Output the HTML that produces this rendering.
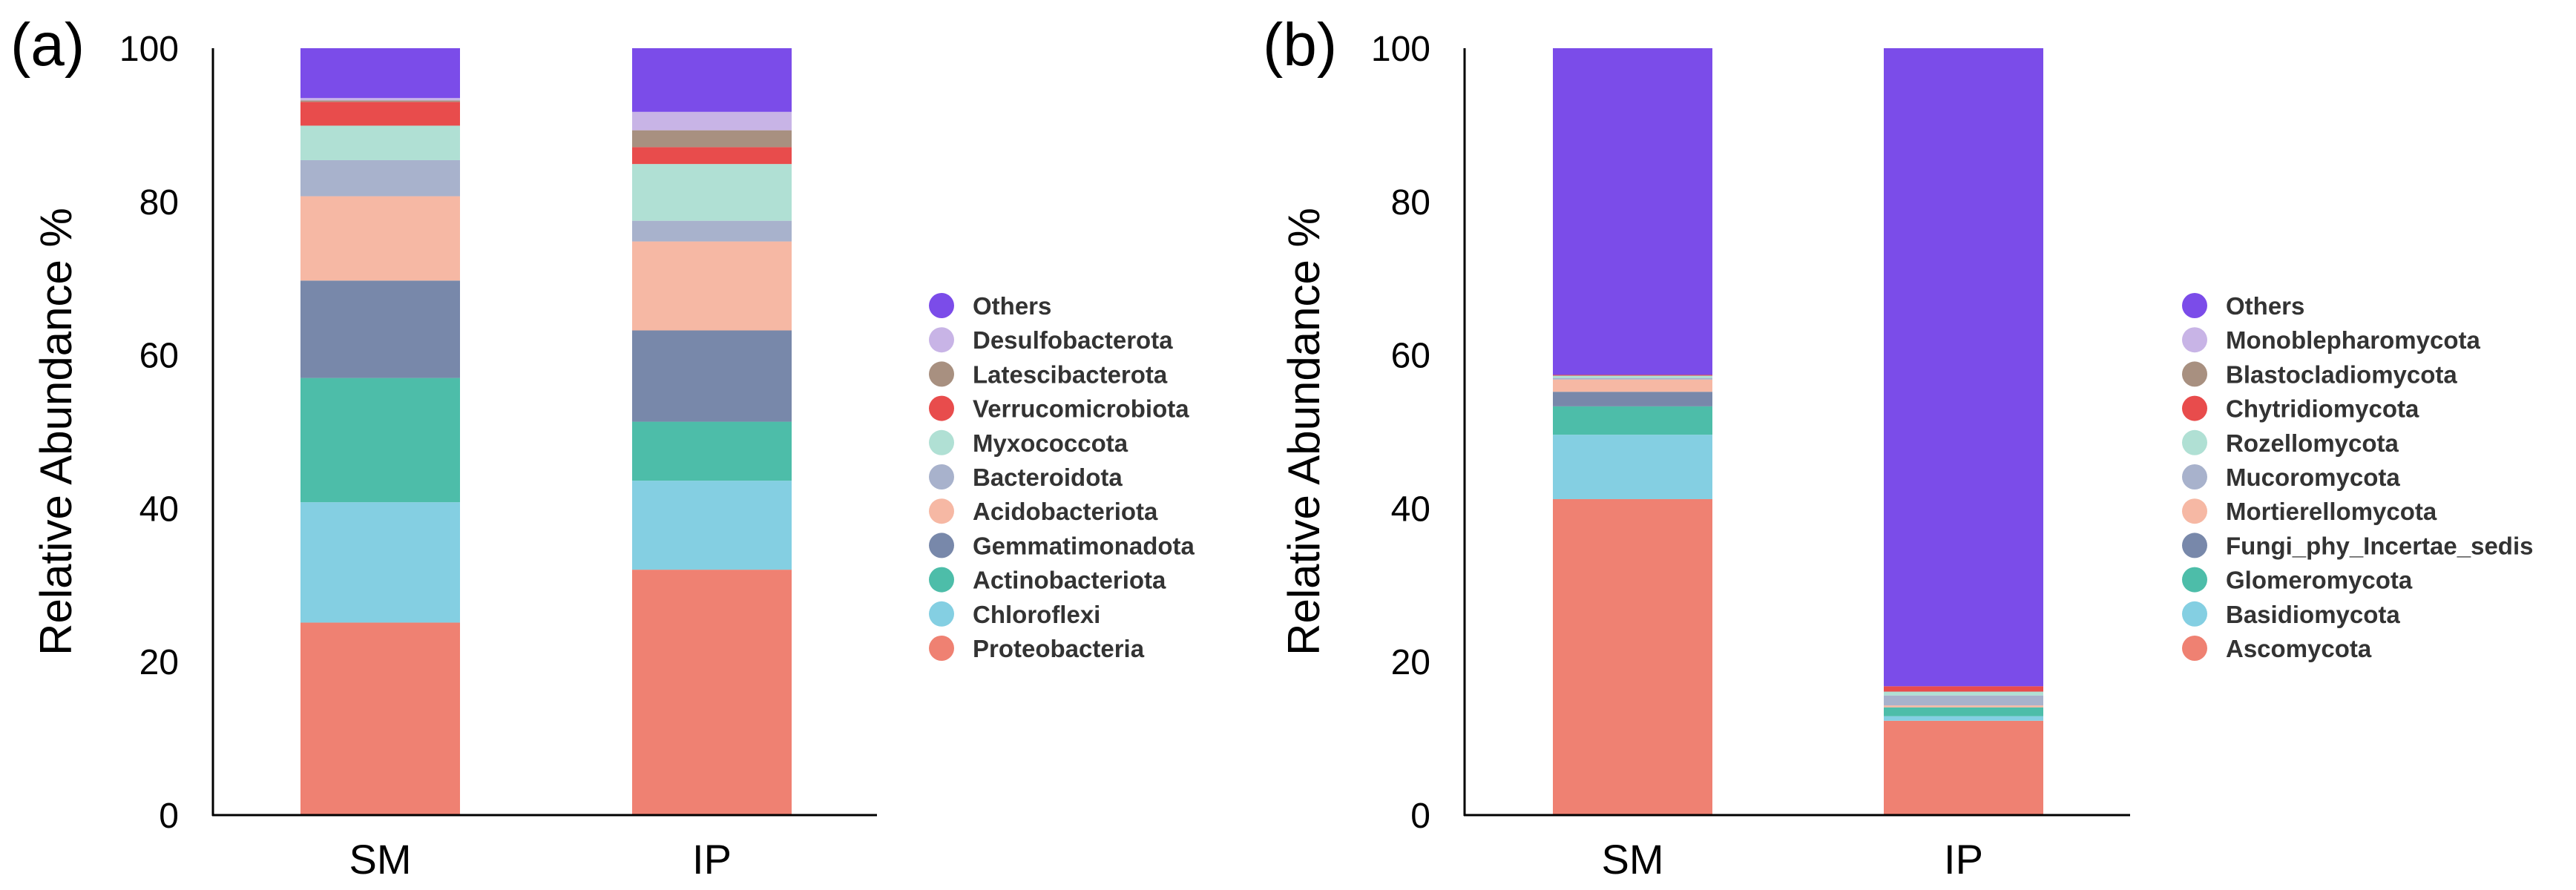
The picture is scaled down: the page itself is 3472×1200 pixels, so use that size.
<!DOCTYPE html>
<html><head><meta charset="utf-8"><style>
body{margin:0;background:#fff;}
svg{display:block;font-family:"Liberation Sans",Arial,sans-serif;}
</style></head><body>
<svg id="chart" width="3472" height="1200" viewBox="0 0 3472 1200"></svg>
<script>
const samples = ["SM", "IP"];
const yTicks = [0, 20, 40, 60, 80, 100];
const bacteriaTaxa = ["Proteobacteria","Chloroflexi","Actinobacteriota","Gemmatimonadota","Acidobacteriota","Bacteroidota","Myxococcota","Verrucomicrobiota","Latescibacterota","Desulfobacterota","Others"];
const bacteriaSM = [25.1, 15.7, 16.2, 12.7, 11.0, 4.7, 4.5, 3.1, 0.2, 0.3, 6.5];
const bacteriaIP = [32.0, 11.6, 7.7, 11.9, 11.6, 2.7, 7.4, 2.2, 2.2, 2.4, 8.3];
const fungiTaxa = ["Ascomycota","Basidiomycota","Glomeromycota","Fungi_phy_Incertae_sedis","Mortierellomycota","Mucoromycota","Rozellomycota","Chytridiomycota","Blastocladiomycota","Monoblepharomycota","Others"];
const fungiSM = [41.2, 8.4, 3.7, 1.9, 1.6, 0.2, 0.3, 0.1, 0, 0, 42.6];
const fungiIP = [12.3, 0.6, 1.15, 0, 0.25, 1.3, 0.5, 0.7, 0, 0, 83.2];
const colors = ["#ef8172","#84cfe2","#4dbda9","#7888aa","#f6b8a4","#a8b2cc","#b0e0d4","#e84c4c","#a89080","#c8b4e6","#7b4ce9"];

const NS = "http://www.w3.org/2000/svg";
const svg = document.getElementById("chart");
function mk(tag, attrs, parent){const e=document.createElementNS(NS,tag);for(const k in attrs)e.setAttribute(k,attrs[k]);(parent||svg).appendChild(e);return e;}

const Y0 = 1099, Y100 = 65;
function yScale(v){return Y0 - (Y0 - Y100) * v / 100;}

function panel(p){
  const g = mk("g", {});
  
  
  const lab = mk("text", {x:p.labelX, y:88, "font-size":82, fill:"#000"}, g);
  lab.textContent = p.label;
  
  
  const title = mk("text", {x:0, y:0, "font-size":60, fill:"#000", "text-anchor":"middle", transform:`translate(${p.titleX},${(Y0+Y100)/2}) rotate(-90)`}, g);
  title.textContent = "Relative Abundance %";
  
  
  yTicks.forEach(t=>{
    const tx = mk("text", {x:p.tickX, y:yScale(t)+17, "font-size":48, fill:"#000", "text-anchor":"end"}, g);
    tx.textContent = t;
    
    
  });
  // bars
  p.series.forEach((vals, si)=>{
    let cum = 0;
    const x = p.barX[si];
    vals.forEach((v, i)=>{
      if (v <= 0) { return; }
      const r = mk("rect", {x:x, y:yScale(cum+v), width:p.barW, height:yScale(cum)-yScale(cum+v), fill:colors[i]}, g);
      
      
      cum += v;
    });
    const xl = mk("text", {x:x+p.barW/2, y:1178, "font-size":56, fill:"#000", "text-anchor":"middle"}, g);
    xl.textContent = samples[si];
    
    
  });
  const ya = mk("line", {x1:p.axisX, y1:Y100, x2:p.axisX, y2:Y0+1, stroke:"#000", "stroke-width":3}, g);
  
  
  const xa = mk("line", {x1:p.axisX-1, y1:Y0, x2:p.axisEnd, y2:Y0, stroke:"#000", "stroke-width":3}, g);
  
  
  // legend
  const lg = mk("g", {}, g);
  
  
  for (let k = 0; k < p.taxa.length; k++){
    const i = p.taxa.length - 1 - k;
    const cy = 412 + k * 46.2;
    const c = mk("circle", {cx:p.dotX, cy:cy, r:17, fill:colors[i]}, lg);
    
    
    const t = mk("text", {x:p.textX, y:cy+12, "font-size":33, "font-weight":"bold", fill:"#333"}, lg);
    t.textContent = p.taxa[i];
    
    
  }
}

panel({id:"bacteria", label:"(a)", labelX:14, titleX:96, tickX:241, axisX:287, axisEnd:1182, barX:[405, 852], barW:215, series:[bacteriaSM, bacteriaIP], taxa:bacteriaTaxa, dotX:1269, textX:1311});
panel({id:"fungi", label:"(b)", labelX:1702, titleX:1778, tickX:1928, axisX:1974, axisEnd:2871, barX:[2093, 2539], barW:215, series:[fungiSM, fungiIP], taxa:fungiTaxa, dotX:2958, textX:3000});
</script>
</body></html>
